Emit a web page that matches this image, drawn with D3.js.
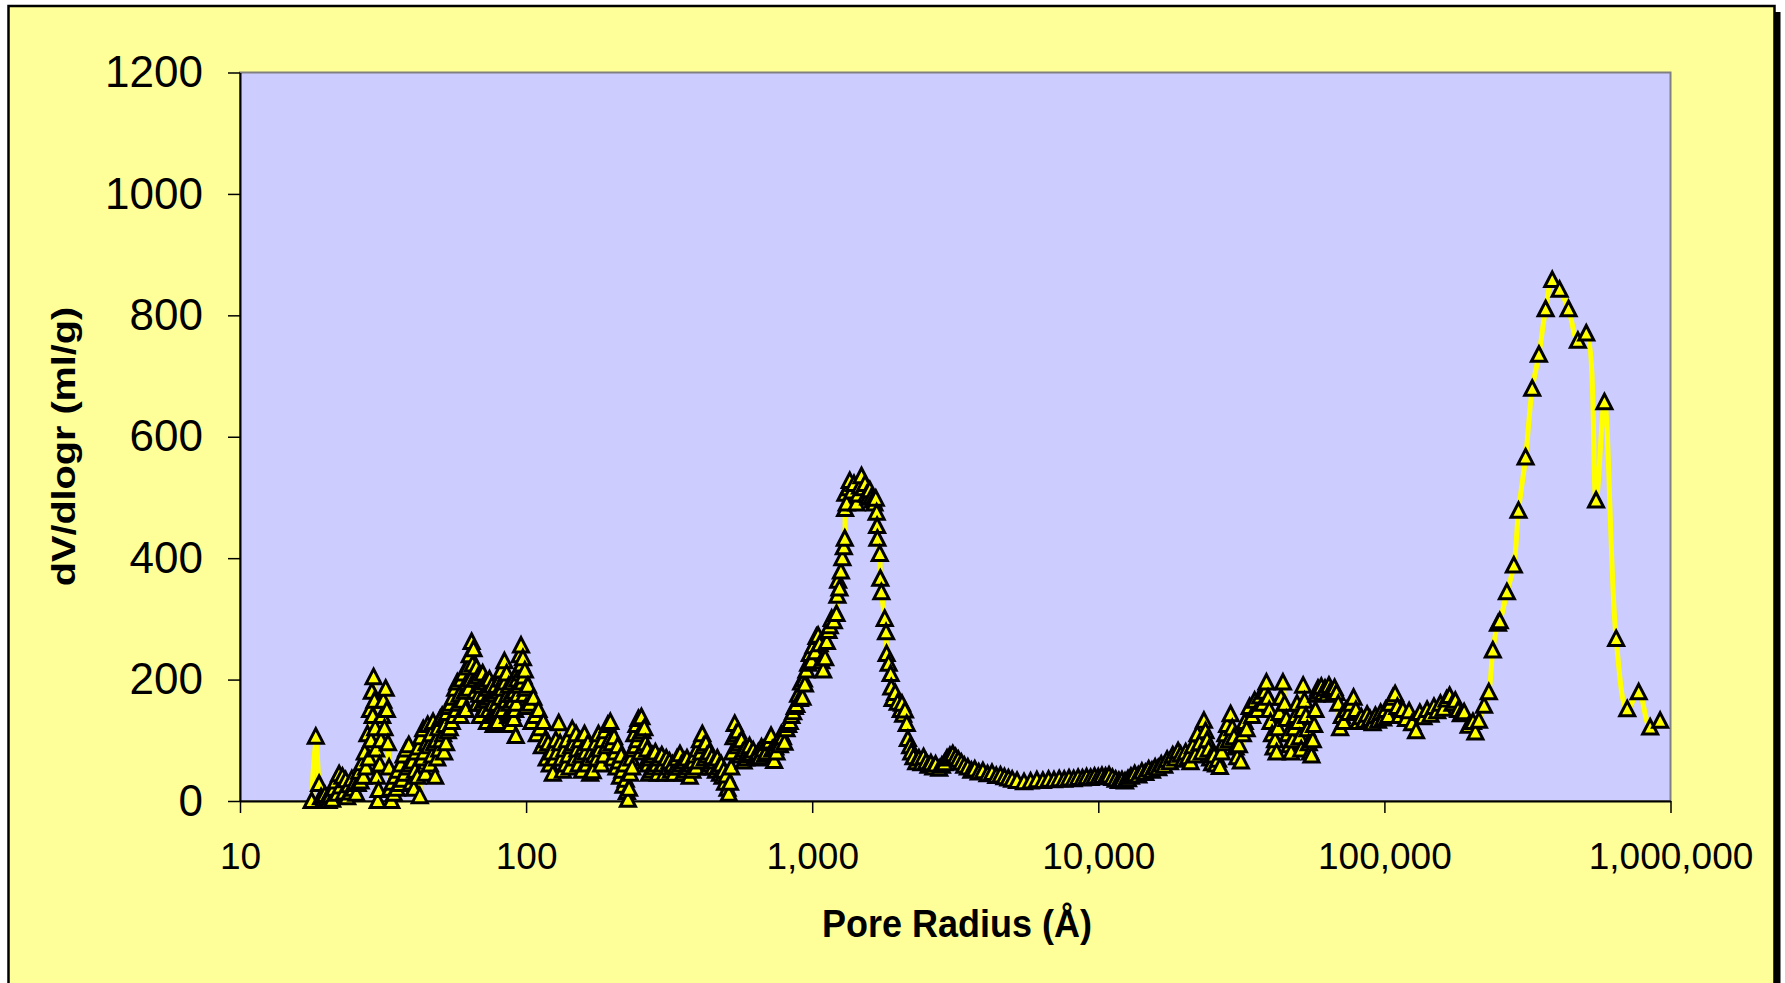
<!DOCTYPE html>
<html lang="en">
<head>
<meta charset="UTF-8">
<title>Pore size distribution</title>
<script src="https://d3js.org/d3.v7.min.js"></script>
<style>
  body { margin: 0; background: #fff; }
  svg text { font-family: "Liberation Sans", Arial, sans-serif; fill: #000; }
</style>
</head>
<body>
<div id="chart"></div>
<script>
// pore radius (A) vs dV/dlogr (ml/g), grouped by radius range
const poresUnder40 = [
  [17.8,0],[18.4,106],[18.9,28],[19.2,6],[19.5,0],[19.8,10],[20.1,3],[20.4,0],[20.7,9],[21.0,2],
  [21.3,20],[21.6,32],[21.9,12],[22.2,44],[22.5,24],[22.8,40],[23.1,14],[23.4,34],[23.7,6],[24.0,26],
  [24.3,14],[24.6,36],[24.9,20],[25.2,30],[25.5,12],[25.8,28],[26.1,48],[26.4,32],[26.7,62],[27.0,40],
  [27.3,80],[27.6,55],[27.9,110],[28.2,70],[28.5,150],[28.7,100],[28.9,180],[29.1,140],[29.3,204],[29.5,165],
  [29.7,120],[29.9,85],[30.1,40],[30.3,0],[30.5,18],[30.8,60],[31.1,100],[31.4,140],[31.7,165],[32.0,120],
  [32.3,185],[32.6,150],[32.9,95],[33.2,55],[33.5,20],[33.8,0],[34.1,30],[34.5,12],[34.9,40],[35.3,20],
  [35.7,50],[36.1,28],[36.5,60],[36.9,35],[37.3,75],[37.7,45],[38.1,85],[38.5,55],[38.9,92],[39.3,60],
  [39.7,30],[40.1,65],[40.5,20],[40.9,50],[41.3,80]
];
const poresTo100 = [
  [41.7,40],[42.1,88],[42.5,8],[42.9,105],[43.3,70],[43.7,118],[44.1,80],[44.5,45],[44.9,95],[45.3,125],
  [45.7,90],[46.1,60],[46.5,110],[46.9,75],[47.3,130],[47.7,95],[48.1,40],[48.5,100],[48.9,70],[49.3,120],
  [49.7,85],[50.1,135],[50.5,100],[50.9,140],[51.3,110],[51.7,80],[52.1,125],[52.5,95],[52.9,145],[53.3,115],
  [53.7,155],[54.1,120],[54.5,160],[55.0,130],[55.5,170],[56.0,140],[56.5,185],[57.0,150],[57.5,195],[58.0,160],
  [58.5,175],[59.0,140],[59.5,200],[60.0,165],[60.5,210],[61.0,180],[61.5,150],[62.0,195],[62.5,220],[63.0,185],
  [63.5,240],[64.0,200],[64.5,262],[65.0,225],[65.5,250],[66.0,200],[66.5,180],[67.0,220],[67.5,160],[68.0,205],
  [68.5,175],[69.0,140],[69.5,190],[70.0,160],[70.5,210],[71.0,175],[71.5,150],[72.0,195],[72.5,165],[73.0,130],
  [73.5,185],[74.0,150],[74.5,200],[75.0,170],[75.5,140],[76.0,190],[76.5,160],[77.0,125],[77.5,175],[78.0,145],
  [78.5,190],[79.0,160],[79.5,130],[80.0,180],[80.5,150],[81.0,200],[81.5,170],[82.0,215],[82.5,185],[83.0,150],
  [83.5,200],[84.0,230],[84.5,195],[85.0,165],[85.5,210],[86.0,175],[86.5,140],[87.0,190],[87.5,160],[88.0,125],
  [88.5,175],[89.0,145],[89.5,195],[90.0,165],[90.5,135],[91.0,180],[91.5,150],[92.0,107],[92.5,160],[93.0,200],
  [93.5,175],[94.0,215],[94.5,190],[95.0,240],[95.5,210],[96.0,256],[96.5,225],[97.0,195],[97.5,235],[98.0,205],
  [98.5,175],[99.0,215],[99.5,185]
];
const poresTo270 = [
  [100,155],[101.5,190],[103,160],[104.5,130],[106,170],[107.5,140],[109,110],[110.5,150],[112,120],[113.5,90],
  [115,130],[116.5,100],[118,70],[119.5,95],[121,60],[122.5,80],[124,45],[125.5,70],[127,100],[128.5,80],
  [130,128],[131.5,95],[133,70],[134.5,50],[136,85],[137.5,60],[139,100],[140.5,75],[142,55],[143.5,90],
  [145,118],[146.5,95],[148,70],[149.5,110],[151,85],[152.5,60],[154,100],[155.5,75],[157,50],[158.5,88],
  [160,110],[161.5,80],[163,60],[164.5,95],[166,70],[167.5,45],[169,80],[171,49],[173,75],[175,95],
  [177,70],[179,110],[181,85],[183,60],[185,100],[187,75],[189,115],[191,90],[193,125],[195,100],
  [197,130],[199,95],[201,70],[203,105],[205,80],[207,55],[209,90],[211,65],[213,40],[215,75],
  [217,50],[219,25],[221,60],[223,35],[225,15],[227,2],[229,20],[231,45],[233,70],[235,55],
  [237,85],[239,110],[241,90],[243,125],[245,100],[247,135],[249,110],[251,80],[253,138],[255,115],
  [257,90],[259,120],[261,95],[263,65],[265,85],[267,60],[269,45],[271,70]
];
const poresTo900 = [
  [274,50],[277,75],[280,55],[283,80],[286,60],[289,45],[292,70],[295,55],[298,75],[301,60],
  [305,45],[309,70],[313,55],[317,65],[321,50],[325,60],[329,45],[333,55],[337,70],[341,55],
  [345,77],[349,60],[353,45],[357,65],[361,50],[365,70],[369,55],[373,40],[377,60],[381,50],
  [385,65],[389,75],[393,55],[397,85],[401,65],[405,100],[409,80],[413,110],[417,90],[421,70],
  [425,95],[429,75],[433,55],[437,80],[441,60],[446,72],[451,55],[456,65],[461,50],[466,70],
  [471,55],[476,45],[481,60],[486,40],[491,50],[496,30],[501,42],[506,20],[511,12],[516,30],
  [521,55],[526,80],[531,105],[536,127],[541,110],[546,90],[551,115],[556,95],[561,75],[566,100],
  [571,80],[576,65],[581,85],[587,70],[593,80],[599,75],
  [604,90],[613,78],[622,83],[631,72],[640,70],[648,80],[656,72],[665,88],[675,85],[684,76],
  [692,80],[701,95],[711,98],[718,107],[725,85],[736,66],[743,88],[750,80],[760,95],[771,92],
  [780,110],[790,105],[800,96],[813,118],[824,125],[835,130],[846,140],[858,146],[869,155],[880,158],
  [893,175],[905,168]
];
const poresTo5000 = [
  [915,195],[925,170],[935,200],[943,192],[955,215],[968,226],[981,242],[995,230],[1010,255],[1025,245],
  [1035,270],[1049,272],[1062,258],[1076,230],[1092,215],[1110,235],[1125,262],[1140,280],[1152,288],[1170,300],
  [1190,296],[1216,308],[1225,338],[1232,363],[1245,350],[1260,378],[1275,400],[1290,418],[1300,432],[1303,481],
  [1306,506],[1320,490],[1340,515],[1353,527],[1380,510],[1400,522],[1428,490],[1450,505],[1470,518],[1487,535],
  [1510,515],[1530,522],[1550,505],[1570,500],[1590,512],[1610,500],[1630,495],[1650,490],[1668,498],[1680,475],
  [1686,453],[1690,432],[1722,407],[1730,366],[1745,344],[1793,300],[1812,278],[1820,242],[1850,226],[1880,209],
  [1890,187],[1910,168],[1950,178],[1990,162],[2040,150],[2060,160],[2080,142],[2110,149],[2140,127],[2160,102],
  [2200,90],[2220,80],[2260,72],[2310,64],[2360,70],[2410,62],[2450,72],[2500,64],[2550,58],[2600,62],
  [2650,55],[2700,60],[2780,53],[2840,58],[2900,62],[2960,70],[3030,74],[3100,77],[3170,72],[3240,68],
  [3320,63],[3400,58],[3500,55],[3600,50],[3700,52],[3820,47],[3950,49],[4100,44],[4250,46],[4400,41],
  [4550,42],[4700,39],[4850,37],[5000,35]
];
const poresTo230k = [
  [5200,33],[5500,31],[5800,32],[6100,34],[6400,33],[6700,35],[7000,34],[7300,36],[7600,35],[7900,37],
  [8200,36],[8500,38],[8800,37],[9100,39],[9400,38],[9700,40],[10000,39],[10300,41],[10600,40],[10900,42],
  [11200,38],[11500,35],[11800,33],[12100,34],[12400,32],[12700,36],[13000,40],[13400,44],[13800,42],[14200,48],
  [14600,46],[15000,52],[15400,50],[15800,55],[16200,54],[16600,60],[17000,58],[17400,68],[17800,64],[18200,75],
  [18600,70],[19000,82],[19400,76],[19800,68],[20200,80],[20600,72],[21000,64],[21400,90],[21800,75],[22200,110],
  [22600,95],[23000,80],[23400,132],[23700,115],[24000,100],[24300,85],[24600,70],[25000,62],[25400,75],[25800,60],
  [26200,68],[26600,56],[27000,80],[27400,95],[27800,110],[28200,125],[28600,100],[29000,143],[29400,120],[29800,105],
  [30200,88],[30600,72],[31000,92],[31500,65],[32000,110],[32500,130],[33000,118],[33800,155],[34500,140],[35200,165],
  [36000,150],[36800,172],[37600,160],[38300,180],[38700,195],[39200,170],[39600,150],[40000,130],[40500,110],[41000,88],
  [41500,100],[42000,80],[42500,120],[43000,145],[43500,170],[44200,195],[44800,160],[45400,135],[46000,110],[46600,92],
  [47200,80],[47800,100],[48400,120],[48900,140],[49500,160],[50000,130],[50600,105],[51200,85],[51600,150],[52000,190],
  [52600,165],[53200,140],[53800,118],[54400,95],[55000,80],[55600,75],[56200,100],[56800,125],[57400,150],[57800,175],
  [58600,185],[59400,180],[60200,188],[61000,178],[62000,185],[63000,176],[64000,190],[65000,182],[66000,175],[67000,186],
  [68000,178],[69000,160],[70000,120],[71000,140],[72000,130],[73500,150],[75000,145],[76500,160],[78000,170],[79500,150],
  [81000,130],[83000,138],[85000,132],[87000,142],[89000,135],[91000,128],[93000,140],[95000,132],[97000,145],[99000,136],
  [101000,150],[103000,140],[105000,160],[107000,170],[109000,176],[111000,155],[113000,140],[116000,150],[119000,135],[122000,148],
  [125000,128],[129000,115],[133000,145],[137000,138],[141000,150],[145000,142],[149000,155],[153000,148],[157000,160],[161000,152],
  [165000,167],[169000,173],[173000,160],[177000,165],[181000,150],[185000,143],[190000,146],[197000,124],[204000,130],[208000,113],
  [214000,132],[223000,157]
];
const poresLarge = [
  [231700,179],[239300,248],[249500,292],[253000,296],[268000,344],[283400,388],[294300,478],[311500,566],[328600,679],[346800,735],
  [366000,810],[386100,858],[409600,842],[440200,810],[474600,758],[507600,770],[549300,495],[587500,657],[645700,267],[706000,151],
  [774000,179],[849000,121],[920000,132]
];
const points = [].concat(poresUnder40, poresTo100, poresTo270, poresTo900, poresTo5000, poresTo230k, poresLarge);

const xTicks = [10, 100, 1000, 10000, 100000, 1000000];
const xTickLabels = ["10", "100", "1,000", "10,000", "100,000", "1,000,000"];
const yTicks = [0, 200, 400, 600, 800, 1000, 1200];
const yTickLabels = ["0", "200", "400", "600", "800", "1000", "1200"];

const width = 1785, height = 983;
const plot = { left: 240, right: 1670.5, top: 72.5, bottom: 801 };

const svg = d3.select("#chart").append("svg")
    .attr("width", width)
    .attr("height", height);

// chart area + shadow
svg.append("rect")
    .attr("x", 14.5).attr("y", 12)
    .attr("width", 1766).attr("height", 990)
    .attr("fill", "#000");
svg.append("rect")
    .attr("x", 8.5).attr("y", 6)
    .attr("width", 1766).attr("height", 990)
    .attr("fill", "#FFFF99")
    .attr("stroke", "#000")
    .attr("stroke-width", 2.5);

// plot area
svg.append("rect")
    .attr("x", plot.left).attr("y", plot.top)
    .attr("width", plot.right - plot.left)
    .attr("height", plot.bottom - plot.top)
    .attr("fill", "#CCCCFF")
    .attr("stroke", "#808080")
    .attr("stroke-width", 2);

const x = d3.scaleLog().domain([10, 1000000]).range([plot.left, plot.right]);
const y = d3.scaleLinear().domain([0, 1200]).range([plot.bottom, plot.top]);

const yAxis = svg.append("g")
    .attr("transform", `translate(${plot.left},0)`)
    .call(d3.axisLeft(y).tickValues(yTicks).tickFormat((d, i) => yTickLabels[i])
        .tickSize(12).tickSizeOuter(0).tickPadding(25));
yAxis.selectAll("text").style("font-size", "44px");

const xAxis = svg.append("g")
    .attr("transform", `translate(0,${plot.bottom})`)
    .call(d3.axisBottom(x).tickValues(xTicks).tickFormat((d, i) => xTickLabels[i])
        .tickSize(12).tickSizeOuter(0).tickPadding(30));
xAxis.selectAll("text").style("font-size", "37px");

svg.selectAll(".domain").attr("stroke", "#000").attr("stroke-width", 2);
svg.selectAll(".tick line").attr("stroke", "#000").attr("stroke-width", 1.5);

// smoothed line
const line = d3.line()
    .x(d => x(d[0]))
    .y(d => y(d[1]))
    .curve(d3.curveCatmullRom.alpha(0.5));

svg.append("path")
    .datum(points)
    .attr("d", line)
    .attr("fill", "none")
    .attr("stroke", "#FFFF00")
    .attr("stroke-width", 5)
    .attr("stroke-linejoin", "round");

// triangle markers
const tri = "M0,-8L7.5,6.5L-7.5,6.5Z";
svg.append("g").selectAll("path")
    .data(points)
    .enter()
    .append("path")
    .attr("d", tri)
    .attr("transform", d => `translate(${x(d[0])},${y(d[1])})`)
    .attr("fill", "#FFFF00")
    .attr("stroke", "#000")
    .attr("stroke-width", 3)
    .attr("stroke-linejoin", "miter");

// axis titles
svg.append("text")
    .attr("transform", "translate(75,446.5) rotate(-90) scale(1.2,1)")
    .attr("text-anchor", "middle")
    .style("font-size", "33px")
    .style("font-weight", "bold")
    .text("dV/dlogr (ml/g)");

svg.append("text")
    .attr("transform", "translate(957,937) scale(1,1.1)")
    .attr("text-anchor", "middle")
    .style("font-size", "36px")
    .style("font-weight", "bold")
    .text("Pore Radius (Å)");
</script>
</body>
</html>
